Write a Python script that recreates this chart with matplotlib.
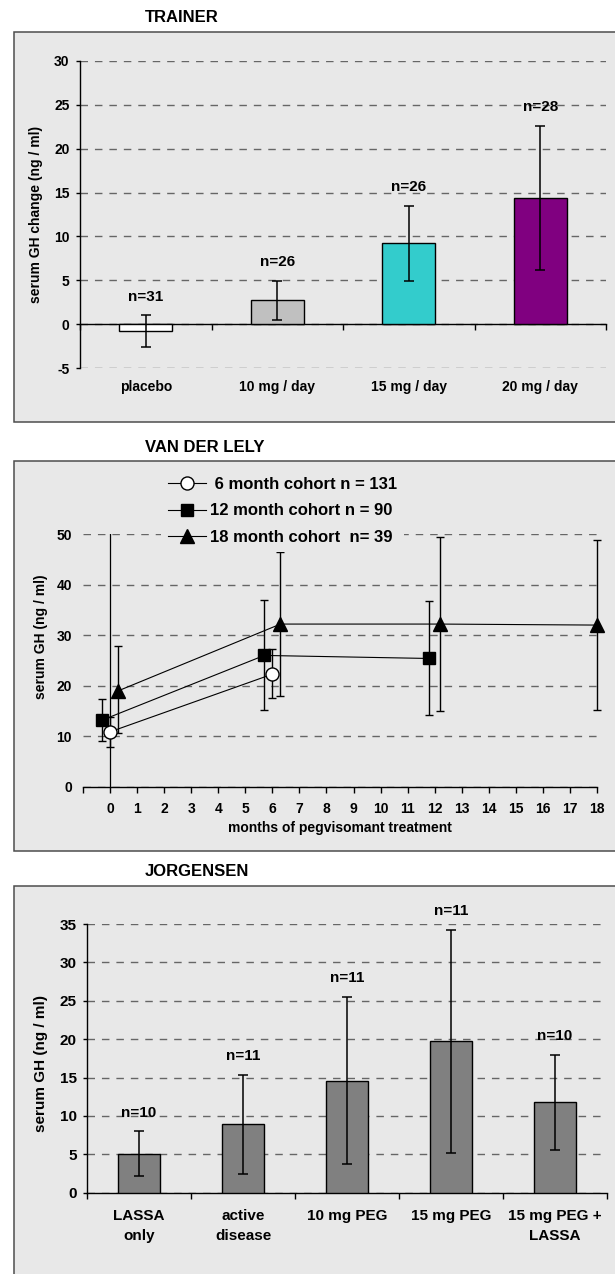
import numpy as np
import matplotlib
matplotlib.use('Agg')
import matplotlib.pyplot as plt
from matplotlib.patches import Rectangle

# ---- data: TRAINER ----
trainer_groups = ['placebo', '10 mg / day', '15 mg / day', '20 mg / day']
trainer_change = [-0.8, 2.7, 9.2, 14.4]
trainer_upper = [1.0, 4.9, 13.5, 22.6]
trainer_lower = [-2.6, 0.5, 4.9, 6.2]
trainer_n = [31, 26, 26, 28]
trainer_colors = ['white', '#c0c0c0', '#33cccc', '#800080']

# ---- data: VAN DER LELY ----
m6_x = [0, 6]
m6_gh = [10.9, 22.3]
m6_upper = [13.8, 27.3]
m6_lower = [8.0, 17.6]

m12_x = [-0.3, 5.7, 11.8]
m12_gh = [13.2, 26.0, 25.4]
m12_upper = [17.4, 37.0, 36.8]
m12_lower = [9.1, 15.2, 14.3]

m18_x = [0.3, 6.3, 12.2, 18.0]
m18_gh = [19.0, 32.2, 32.2, 32.0]
m18_upper = [27.9, 46.5, 49.4, 48.8]
m18_lower = [10.6, 18.0, 15.1, 15.2]

months = list(range(0, 19))

# ---- data: JORGENSEN ----
jorg_groups = ['LASSA\nonly', 'active\ndisease', '10 mg PEG', '15 mg PEG', '15 mg PEG +\nLASSA']
jorg_gh = [5.0, 9.0, 14.6, 19.7, 11.8]
jorg_upper = [8.0, 15.3, 25.5, 34.2, 18.0]
jorg_lower = [2.2, 2.5, 3.7, 5.2, 5.6]
jorg_n = [10, 11, 11, 11, 10]

plt.rcParams['font.family'] = ['Liberation Sans', 'DejaVu Sans']
plt.rcParams['font.weight'] = 'bold'
plt.rcParams['axes.labelweight'] = 'bold'
plt.rcParams['axes.unicode_minus'] = False
plt.rcParams['lines.scale_dashes'] = False

BG = '#e8e8e8'
EDGE = '#4d4d4d'
GRID = dict(color='#666666', lw=1.0, linestyle=(0, (5.4, 5.0)))

W, H = 615, 1274
fig = plt.figure(figsize=(W / 100, H / 100), dpi=100)


def fx(px):
    return px / W


def fy(py):
    return 1 - py / H


def panel_box(top, bottom):
    fig.patches.append(Rectangle((fx(14), fy(bottom)), 1.2, fy(top) - fy(bottom),
                                 transform=fig.transFigure, facecolor=BG,
                                 edgecolor=EDGE, lw=1.1, zorder=-10))


def make_axes(left, right, top, bottom):
    ax = fig.add_axes([fx(left), fy(bottom), fx(right) - fx(left), fy(top) - fy(bottom)])
    ax.set_facecolor('none')
    ax.set_axisbelow(True)
    for s in ['top', 'right']:
        ax.spines[s].set_visible(False)
    return ax


def bar_panel(ax, groups, vals, upper, lower, ns, colors, width, ylim, step,
              ytick_size, xtick_size, xpad, spacing):
    x = np.arange(len(groups))
    vals = np.array(vals)
    ax.set_xlim(-0.5, len(groups) - 0.5)
    ax.set_ylim(*ylim)
    ax.bar(x, vals, width=width, color=colors, edgecolor='black', lw=1, zorder=3)
    ax.errorbar(x, vals, yerr=[vals - np.array(lower), np.array(upper) - vals],
                fmt='none', ecolor='black', elinewidth=1.1, capsize=3.8,
                capthick=1.1, zorder=4)
    for xi, top, n in zip(x, upper, ns):
        ax.annotate(f'n={n}', (xi, top), xytext=(0, 13.5), textcoords='offset points',
                    ha='center', va='center', fontsize=11, fontweight='bold')
    ax.set_yticks(np.arange(ylim[0], ylim[1] + 1, step))
    ax.yaxis.grid(True, **GRID)
    ax.spines['left'].set_linewidth(1)
    ax.spines['bottom'].set_position(('data', 0))
    ax.spines['bottom'].set_linewidth(1)
    ax.set_xticks(np.arange(-0.5, len(groups), 1), minor=True)
    ax.set_xticks(x, groups)
    ax.tick_params(axis='x', which='minor', length=4, width=1)
    ax.tick_params(axis='x', which='major', length=0, pad=xpad, labelsize=xtick_size)
    ax.tick_params(axis='y', length=3, width=1, pad=4.5, labelsize=ytick_size)
    for lab in ax.get_xticklabels():
        lab.set_linespacing(spacing)


# ---------- TRAINER ----------
panel_box(32, 422)
fig.text(fx(145), fy(17), 'TRAINER', ha='left', va='center', fontsize=12)
ax1 = make_axes(80, 606, 61, 368)
bar_panel(ax1, trainer_groups, trainer_change, trainer_upper, trainer_lower, trainer_n,
          trainer_colors, 0.4, (-5, 30), 5, 10, 10, 40.5, 1.3)
fig.text(fx(36), fy(214), 'serum GH change (ng / ml)', rotation=90,
         ha='center', va='center', fontsize=10)

# ---------- VAN DER LELY ----------
panel_box(461, 851)
fig.text(fx(145), fy(447), 'VAN DER LELY', ha='left', va='center', fontsize=12)
ax2 = make_axes(83, 597, 534, 787)
ax2.spines['left'].set_visible(False)
ax2.set_xlim(-1, 18)
ax2.set_ylim(0, 50)
ax2.axvline(0, color='black', lw=0.9, zorder=2)
ax2.set_yticks(range(0, 51, 10))
ax2.yaxis.grid(True, **GRID)
ax2.tick_params(axis='y', length=0, pad=8, labelsize=10)
ax2.set_xticks([-1] + months, [''] + [str(m) for m in months])
ax2.tick_params(axis='x', length=4, width=1, pad=6.5, labelsize=10)
ax2.spines['bottom'].set_linewidth(1)
ax2.set_xlabel('months of pegvisomant treatment', fontsize=10, labelpad=4)

cohorts = [
    (m6_x, m6_gh, m6_upper, m6_lower, 'o', 'white', 9.4, ' 6 month cohort n = 131'),
    (m12_x, m12_gh, m12_upper, m12_lower, 's', 'black', 9.2, '12 month cohort n = 90'),
    (m18_x, m18_gh, m18_upper, m18_lower, '^', 'black', 10, '18 month cohort  n= 39'),
]
for xs, ys, hi, lo, mk, fc, ms, lab in cohorts:
    ys = np.array(ys)
    ax2.errorbar(xs, ys, yerr=[ys - np.array(lo), np.array(hi) - ys], fmt='none',
                 ecolor='black', elinewidth=1, capsize=3, capthick=1, zorder=3,
                 clip_on=False)
    ax2.plot(xs, ys, color='black', lw=0.8, marker=mk, ms=ms, mfc=fc, mec='black',
             mew=1, label=lab, zorder=4, clip_on=False)

leg = ax2.legend(loc='upper left', bbox_to_anchor=(fx(161), fy(470)),
                 bbox_transform=fig.transFigure, borderaxespad=0, borderpad=0.4,
                 fontsize=12, handlelength=2.3, handletextpad=0.25, labelspacing=0.7,
                 numpoints=1, frameon=True, fancybox=False)
leg.get_frame().set_facecolor(BG)
leg.get_frame().set_edgecolor('none')
leg.get_frame().set_alpha(1)
fig.text(fx(41), fy(637), 'serum GH (ng / ml)', rotation=90,
         ha='center', va='center', fontsize=10)

# ---------- JORGENSEN ----------
panel_box(886, 1300)
fig.text(fx(145), fy(872), 'JORGENSEN', ha='left', va='center', fontsize=12)
ax3 = make_axes(87, 607, 924, 1192.7)
bar_panel(ax3, jorg_groups, jorg_gh, jorg_upper, jorg_lower, jorg_n,
          '#808080', 0.41, (0, 35), 5, 11, 11, 12, 1.55)
fig.text(fx(41), fy(1063), 'serum GH (ng / ml)', rotation=90,
         ha='center', va='center', fontsize=11)

fig.savefig('out.png', dpi=100, facecolor='white')
